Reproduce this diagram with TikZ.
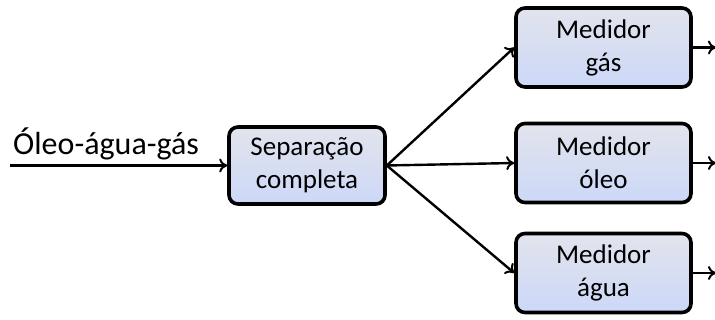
\documentclass[tikz,border=0pt]{standalone}
\usepackage{fontspec}
\setmainfont{Carlito}
\usetikzlibrary{arrows.meta,shadows}
\definecolor{boxtop}{RGB}{226,228,236}
\definecolor{boxbot}{RGB}{204,216,248}
\tikzset{
  procbox/.style={draw=black, line width=3.6pt, rounded corners=9pt,
    top color=boxtop, bottom color=boxbot, align=center,
    font=\fontsize{27}{33}\selectfont, inner sep=0pt,
    drop shadow={shadow xshift=1.5pt, shadow yshift=-1.5pt, opacity=0.35, fill=gray}},
  flow/.style={line width=2.4pt, -{To[length=8pt,width=14pt,line width=2pt]}}
}
\begin{document}
\begin{tikzpicture}[x=1pt,y=-1pt]
\useasboundingbox (0,0) rectangle (715,320);
\node[procbox, minimum width=156pt, minimum height=77pt] (sep) at (307,165.5) {Separação\\completa};
\node[procbox, minimum width=175pt, minimum height=79pt] (gas) at (603.5,47.5) {Medidor\\gás};
\node[procbox, minimum width=175pt, minimum height=79pt] (oleo) at (603.5,163) {Medidor\\óleo};
\node[procbox, minimum width=175pt, minimum height=79pt] (agua) at (603.5,273) {Medidor\\água};
\coordinate (in) at (10,165.5);
\node[font=\fontsize{32}{38}\selectfont, anchor=base west, inner sep=0pt] (lbl) at (13,155) {Óleo-água-gás};
\coordinate (og) at (716,47.5);
\coordinate (oo) at (716,163);
\coordinate (oa) at (716,273);
\draw[flow] (in) -- (sep.west);
\draw[flow] (sep.east) -- (gas.west);
\draw[flow] (sep.east) -- (oleo.west);
\draw[flow] (sep.east) -- (agua.west);
\draw[flow] (gas.east) -- (og);
\draw[flow] (oleo.east) -- (oo);
\draw[flow] (agua.east) -- (oa);
\end{tikzpicture}
\end{document}
